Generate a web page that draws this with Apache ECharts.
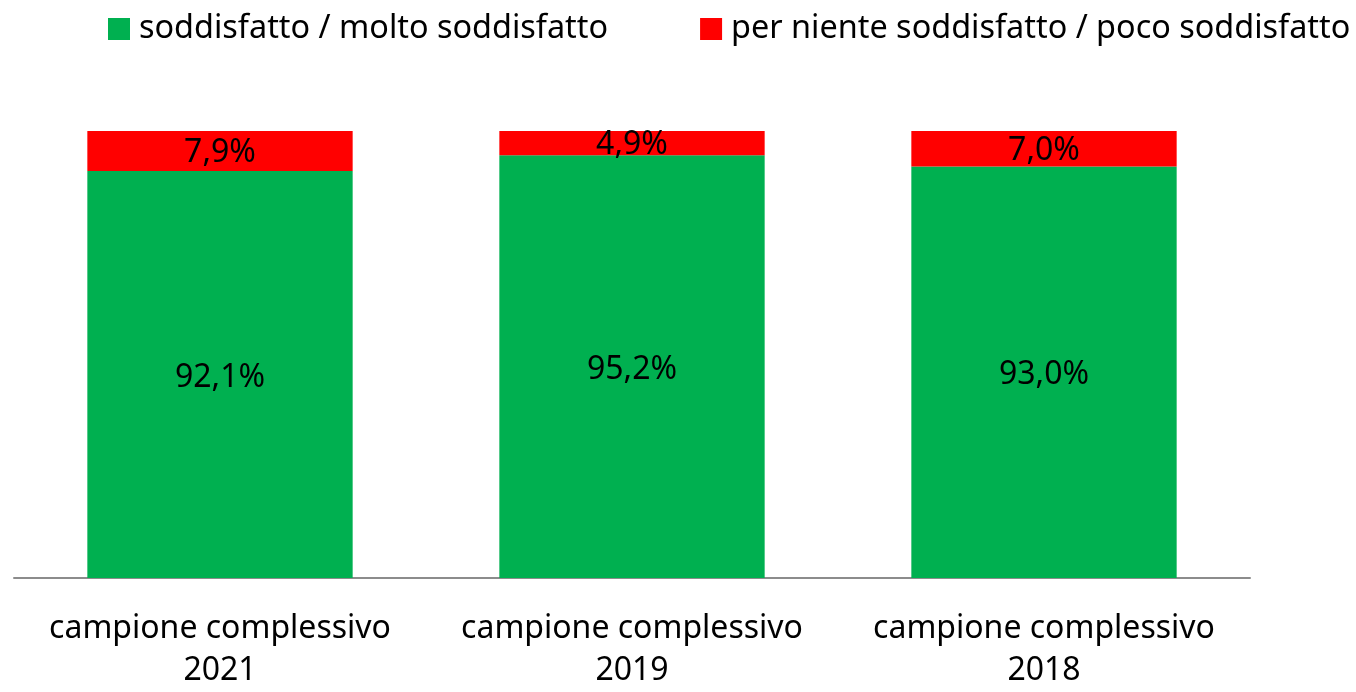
<!DOCTYPE html>
<html>
<head>
<meta charset="utf-8">
<script src="https://cdn.jsdelivr.net/npm/echarts@6/dist/echarts.min.js"></script>
<style>html,body{margin:0;padding:0;background:#fff;overflow:hidden}#c{width:1356px;height:692px}</style>
</head>
<body>
<div id="c"></div>
<script>
const categories = ['campione complessivo\n2021', 'campione complessivo\n2019', 'campione complessivo\n2018'];
const seriesNames = ['soddisfatto / molto soddisfatto', 'per niente soddisfatto / poco soddisfatto'];
const satisfied = [92.1, 95.2, 93.0];
const unsatisfied = [7.9, 4.9, 7.0];
const yMin = 11.7;
const yMax = 100;

const FONT = 'Noto Sans';
const FS = 32;
const fmt = p => p.value.toFixed(1).replace('.', ',') + '%';
const chart = echarts.init(document.getElementById('c'));
chart.setOption({
  animation: false,
  textStyle: { fontFamily: FONT },
  legend: {
    left: 103, top: 8,
    itemWidth: 22, itemHeight: 22, itemGap: 92,
    icon: 'rect',
    textStyle: { fontSize: 32.4, color: '#000', fontFamily: FONT, padding: [0, 0, 0, 4] },
    data: seriesNames
  },
  grid: { left: 14, right: 106, top: 131, bottom: 114, containLabel: false, outerBoundsMode: 'none' },
  xAxis: {
    type: 'category', data: categories,
    axisLine: { lineStyle: { color: '#8c8c8c', width: 2 } },
    axisTick: { show: false },
    axisLabel: { interval: 0, fontSize: FS, color: '#000', lineHeight: 42, margin: 30, fontFamily: FONT }
  },
  yAxis: { type: 'value', min: yMin, max: yMax, show: false, splitLine: { show: false } },
  series: [
    { name: seriesNames[0], type: 'bar', stack: 's', data: satisfied, barWidth: '64.4%', clip: true,
      itemStyle: { color: '#00B050' },
      label: { show: true, position: 'inside', offset: [0, 3], formatter: fmt, fontSize: FS, color: '#000', fontFamily: FONT } },
    { name: seriesNames[1], type: 'bar', stack: 's', data: unsatisfied, barWidth: '64.4%', clip: true,
      itemStyle: { color: '#FF0000' },
      label: { show: true, position: 'inside', offset: [0, 2], formatter: fmt, fontSize: FS, color: '#000', fontFamily: FONT } }
  ]
});
</script>
</body>
</html>
